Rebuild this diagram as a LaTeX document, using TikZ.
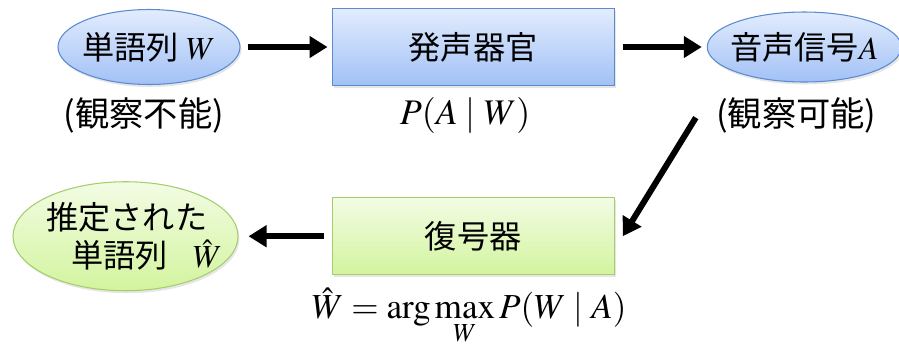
\documentclass[tikz,border=0pt]{standalone}
\usepackage{mathptmx}
\usepackage[no-math]{fontspec}
\newfontfamily\jpfont{Noto Sans CJK JP}
\usetikzlibrary{positioning, arrows.meta, shapes.geometric, shadows}
\definecolor{bluetop}{HTML}{E2ECFD}
\definecolor{bluebot}{HTML}{A2C1F6}
\definecolor{blueline}{HTML}{5A8AD0}
\definecolor{greentop}{HTML}{F2FCE4}
\definecolor{greenbot}{HTML}{D3F49E}
\definecolor{greenline}{HTML}{A5CE6A}

\begin{document}
\begin{tikzpicture}[
	font=\jpfont\fontsize{18.3}{22}\selectfont,
	myshadow/.style={drop shadow={opacity=0.2, shadow xshift=0.03cm, shadow yshift=-0.05cm}},
	blueell/.style={ellipse, draw=blueline, line width=0.6pt, top color=bluetop, bottom color=bluebot, myshadow},
	bluebox/.style={rectangle, draw=blueline, line width=0.7pt, top color=bluetop, bottom color=bluebot, myshadow, minimum width=5.64cm, minimum height=1.54cm},
	greenbox/.style={rectangle, draw=greenline, line width=0.7pt, top color=greentop, bottom color=greenbot, myshadow, minimum width=5.64cm, minimum height=1.54cm},
	greenell/.style={ellipse, draw=greenline, line width=0.6pt, top color=greentop, bottom color=greenbot, myshadow},
	note/.style={inner sep=0pt, font=\jpfont\fontsize{19.5}{23}\selectfont},
	arr/.style={-{Triangle[length=0.36cm, width=0.42cm]}, line width=0.12cm}
]
	\useasboundingbox (0,0) rectangle (17.98,-6.92);

	\node[blueell, inner xsep=-0.08cm, minimum width=3.64cm, minimum height=1.5cm] (w) at (2.98,-0.94) {単語列 $W$};
	\node[bluebox, right=1.82cm of w] (organ) {発声器官};
	\node[blueell, inner xsep=-0.14cm, right=1.84cm of organ, minimum width=3.88cm, minimum height=1.4cm] (a) {音声信号$A$};
	\node[greenbox, below=2.22cm of organ] (dec) {復号器};
	\node[greenell, inner xsep=0pt, inner ysep=-0.06cm, text width=3.16cm, align=left, left=1.86cm of dec, minimum width=4.5cm, minimum height=2.18cm] (what) {\baselineskip=24.5pt 推定された\\\mbox{\hspace*{0.5cm}単語列\hspace{0.5cm}$\hat{W}$}};

	\node[note, below=0.24cm of w, xshift=-0.1cm] (lw) {(観察不能)};
	\node[note, below=0.22cm of organ, xshift=-0.16cm] (lp) {\fontsize{20.5}{24}\selectfont$P(A \mid W)$};
	\node[note, below=0.3cm of a, xshift=-0.16cm] (la) {(観察可能)};
	\node[note, below=0.24cm of dec, xshift=-0.08cm] (lf) {\fontsize{20}{24}\selectfont$\hat{W} = \displaystyle\arg\max_{W} P(W \mid A)$};

	\coordinate (obs) at ([xshift=-0.4cm, yshift=-0.04cm]la.west);

	\draw[arr, shorten <=0.14cm, shorten >=0.08cm] (w) -- (organ);
	\draw[arr, shorten <=0.16cm, shorten >=0.1cm] (organ) -- (a);
	\draw[arr] (obs) -- ([xshift=0.16cm]dec.east);
	\draw[arr, shorten <=0.16cm, shorten >=0.2cm] (dec) -- (what);
\end{tikzpicture}
\end{document}
